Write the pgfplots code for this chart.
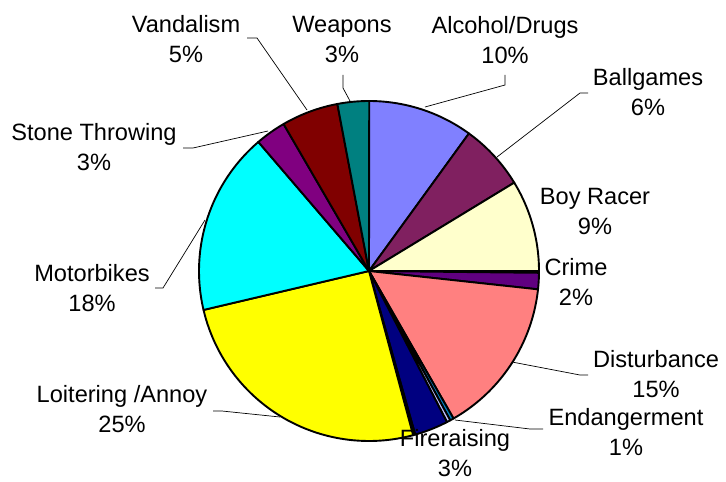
\documentclass[border=0pt]{standalone}
\usepackage{pgfplots}
\pgfplotsset{compat=1.18}
\usepackage{fontspec}
\setmainfont{Liberation Sans}
\definecolor{c1}{HTML}{8080FF}
\definecolor{c2}{HTML}{802060}
\definecolor{c3}{HTML}{FFFFCC}
\definecolor{c4}{HTML}{CCFFFF}
\definecolor{c5}{HTML}{600080}
\definecolor{c6}{HTML}{FF8080}
\definecolor{c7}{HTML}{0080C0}
\definecolor{c8}{HTML}{C0C0FF}
\definecolor{c9}{HTML}{000080}
\definecolor{c10}{HTML}{FF00FF}
\definecolor{c11}{HTML}{FFFF00}
\definecolor{c12}{HTML}{00FFFF}
\definecolor{c13}{HTML}{800080}
\definecolor{c14}{HTML}{800000}
\definecolor{c15}{HTML}{008080}
\tikzset{lbl/.style={font=\fontsize{11.8}{15}\selectfont, align=center, inner sep=0pt},
         ldr/.style={draw=black, line width=0.35pt}}
% pie centre (369,271), radius 170 in picture pixels
\newcommand\cum{0}
\newcommand\slice[2]{%
  \pgfmathsetmacro\angA{90-3.6*(\cum+#2)}%
  \pgfmathsetmacro\angB{90-3.6*\cum}%
  \edef\doslice{\noexpand\addplot[fill=#1, draw=black, line width=0.95pt, line join=round, domain=\angA:\angB, samples=60] ({369+170*cos(x)},{271-170*sin(x)}) -- (axis cs:369,271) -- cycle;}%
  \doslice
  \pgfmathsetmacro\newcum{\cum+#2}\global\let\cum\newcum
}
\begin{document}
\begin{tikzpicture}
\begin{axis}[scale only axis, width=363pt, height=240.5pt,
  xmin=0, xmax=726, ymin=0, ymax=481, y dir=reverse,
  hide axis, clip=false]
\path (axis cs:0,0) rectangle (axis cs:726,481);
% percentages, clockwise from 12 o'clock
\slice{c1}{10.0}   % Alcohol/Drugs
\slice{c2}{6.3}    % Ballgames
\slice{c3}{8.7}    % Boy Racer
\slice{c4}{0.17}   % (unlabelled)
\slice{c5}{1.55}   % Crime
\slice{c6}{15.0}   % Disturbance
\slice{c7}{0.35}   % Endangerment
\slice{c8}{0.35}   % (unlabelled)
\slice{c9}{3.2}    % Fireraising
\slice{c10}{0.2}   % (unlabelled)
\slice{c11}{25.5}  % Loitering /Annoy
\slice{c12}{17.4}  % Motorbikes
\slice{c13}{2.9}   % Stone Throwing
\slice{c14}{5.4}   % Vandalism
\slice{c15}{3.0}   % Weapons
% leader lines
\draw[ldr] (axis cs:247,38) -- (axis cs:257,38) -- (axis cs:307,110);
\draw[ldr] (axis cs:343,75) -- (axis cs:343,88) -- (axis cs:350,101);
\draw[ldr] (axis cs:505,75) -- (axis cs:505,85) -- (axis cs:425,107);
\draw[ldr] (axis cs:588,93) -- (axis cs:580,93) -- (axis cs:497,157);
\draw[ldr] (axis cs:588,375) -- (axis cs:580,375) -- (axis cs:512,362);
\draw[ldr] (axis cs:543,429) -- (axis cs:530,429) -- (axis cs:455,420);
\draw[ldr] (axis cs:213,411) -- (axis cs:222,411) -- (axis cs:280,417);
\draw[ldr] (axis cs:155,288) -- (axis cs:163,288) -- (axis cs:205,220);
\draw[ldr] (axis cs:183,148) -- (axis cs:193,148) -- (axis cs:268,131);
% labels
\node[lbl] at (axis cs:186,39) {Vandalism\\5\%};
\node[lbl] at (axis cs:342,39) {Weapons\\3\%};
\node[lbl] at (axis cs:505,40) {Alcohol/Drugs\\10\%};
\node[lbl] at (axis cs:648,92) {Ballgames\\6\%};
\node[lbl] at (axis cs:595,211) {Boy Racer\\9\%};
\node[lbl] at (axis cs:576,282) {Crime\\2\%};
\node[lbl] at (axis cs:656,374) {Disturbance\\15\%};
\node[lbl] at (axis cs:626,432) {Endangerment\\1\%};
\node[lbl] at (axis cs:455,453) {Fireraising\\3\%};
\node[lbl] at (axis cs:122,409) {Loitering /Annoy\\25\%};
\node[lbl] at (axis cs:92,288) {Motorbikes\\18\%};
\node[lbl] at (axis cs:94,147) {Stone Throwing\\3\%};
\end{axis}
\end{tikzpicture}
\end{document}
